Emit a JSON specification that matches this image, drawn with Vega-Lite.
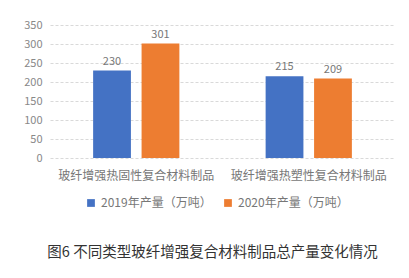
{
  "$schema": "https://vega.github.io/schema/vega-lite/v6.json",
  "width": 345,
  "height": 133,
  "autosize": {"type": "none"},
  "padding": {"left": 50, "top": 25, "right": 14, "bottom": 120},
  "background": "white",
  "config": {
    "font": "Noto Sans CJK SC",
    "view": {"stroke": null}
  },
  "title": {
    "text": "图6 不同类型玻纤增强复合材料制品总产量变化情况",
    "orient": "bottom",
    "anchor": "middle",
    "dx": -10,
    "offset": 37,
    "fontSize": 14.5,
    "fontWeight": "normal",
    "color": "#333333"
  },
  "data": {
    "values": [
      {"category": "玻纤增强热固性复合材料制品", "series": "2019年产量（万吨）", "value": 230},
      {"category": "玻纤增强热固性复合材料制品", "series": "2020年产量（万吨）", "value": 301},
      {"category": "玻纤增强热塑性复合材料制品", "series": "2019年产量（万吨）", "value": 215},
      {"category": "玻纤增强热塑性复合材料制品", "series": "2020年产量（万吨）", "value": 209}
    ]
  },
  "encoding": {
    "x": {
      "field": "category",
      "type": "nominal",
      "sort": null,
      "scale": {"paddingInner": 0.5, "paddingOuter": 0.25},
      "axis": {"title": null, "labelAngle": 0, "ticks": false, "domain": false, "labelFontSize": 12, "labelColor": "#777777", "labelPadding": 12}
    },
    "xOffset": {"field": "series", "type": "nominal", "scale": {"paddingInner": 0.22}},
    "y": {
      "field": "value",
      "type": "quantitative",
      "scale": {"domain": [0, 350], "nice": false},
      "axis": {"title": null, "values": [0, 50, 100, 150, 200, 250, 300, 350], "labelOverlap": false, "ticks": false, "domain": false, "labelFontSize": 11, "labelColor": "#888888", "labelPadding": 8, "gridColor": "#d9d9d9", "gridDash": [3, 2]}
    }
  },
  "layer": [
    {
      "mark": {"type": "bar"},
      "encoding": {
        "color": {
          "field": "series",
          "type": "nominal",
          "scale": {"range": ["#4472C4", "#ED7D31"]},
          "legend": {
            "title": null,
            "orient": "none",
            "direction": "horizontal",
            "legendX": 35,
            "legendY": 172,
            "symbolType": "square",
            "symbolSize": 60,
            "labelFontSize": 12,
            "labelColor": "#777777",
            "columnPadding": 10
          }
        }
      }
    },
    {
      "mark": {"type": "text", "dy": -9, "fontSize": 11, "color": "#777777"},
      "encoding": {"text": {"field": "value", "type": "quantitative"}}
    }
  ]
}
